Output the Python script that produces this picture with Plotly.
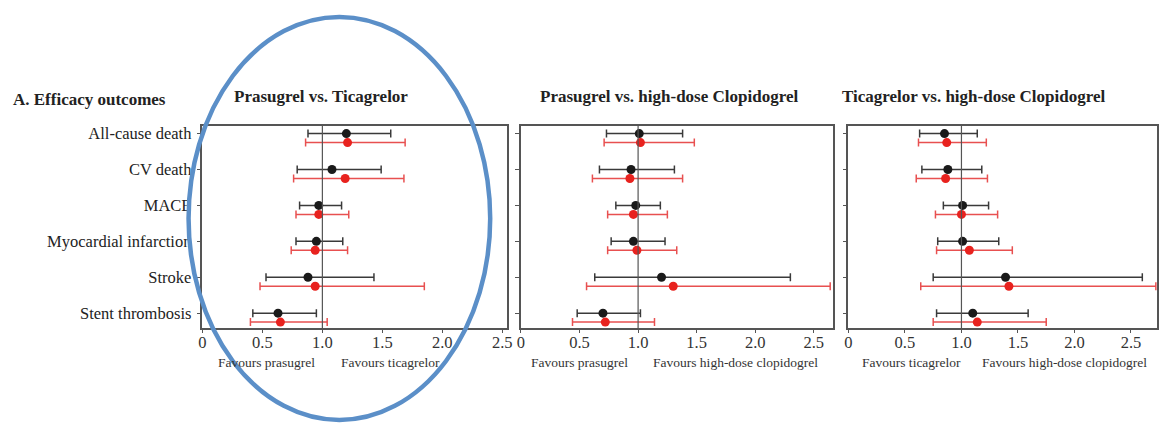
import plotly.graph_objects as go

W, H = 1162, 423

categories = ["All-cause death", "CV death", "MACE", "Myocardial infarction", "Stroke", "Stent thrombosis"]
tick_vals = [0, 0.5, 1.0, 1.5, 2.0, 2.5]
tick_text = ["0", "0.5", "1.0", "1.5", "2.0", "2.5"]

panel_titles = ["Prasugrel vs. Ticagrelor", "Prasugrel vs. high-dose Clopidogrel",
                "Ticagrelor vs. high-dose Clopidogrel"]
favours_left = ["Favours prasugrel", "Favours prasugrel", "Favours ticagrelor"]
favours_right = ["Favours ticagrelor", "Favours high-dose clopidogrel", "Favours high-dose clopidogrel"]

# Panel 1: Prasugrel vs Ticagrelor
p1_black_est = [1.20, 1.08, 0.97, 0.95, 0.88, 0.63]
p1_black_lo = [0.88, 0.79, 0.81, 0.78, 0.53, 0.42]
p1_black_hi = [1.57, 1.49, 1.16, 1.17, 1.43, 0.95]
p1_red_est = [1.21, 1.19, 0.97, 0.94, 0.94, 0.65]
p1_red_lo = [0.86, 0.76, 0.78, 0.74, 0.48, 0.40]
p1_red_hi = [1.69, 1.68, 1.22, 1.21, 1.85, 1.04]

# Panel 2: Prasugrel vs high-dose Clopidogrel
p2_black_est = [1.01, 0.94, 0.98, 0.96, 1.20, 0.70]
p2_black_lo = [0.73, 0.67, 0.81, 0.77, 0.63, 0.48]
p2_black_hi = [1.38, 1.31, 1.19, 1.23, 2.30, 1.02]
p2_red_est = [1.02, 0.93, 0.96, 0.99, 1.30, 0.72]
p2_red_lo = [0.71, 0.61, 0.74, 0.74, 0.56, 0.44]
p2_red_hi = [1.48, 1.38, 1.25, 1.33, 2.64, 1.14]

# Panel 3: Ticagrelor vs high-dose Clopidogrel
p3_black_est = [0.85, 0.88, 1.01, 1.01, 1.39, 1.10]
p3_black_lo = [0.63, 0.65, 0.84, 0.79, 0.75, 0.78]
p3_black_hi = [1.14, 1.18, 1.24, 1.33, 2.60, 1.59]
p3_red_est = [0.87, 0.86, 1.00, 1.07, 1.42, 1.14]
p3_red_lo = [0.62, 0.60, 0.77, 0.78, 0.64, 0.75]
p3_red_hi = [1.22, 1.23, 1.32, 1.45, 2.72, 1.75]

panels = [
    (p1_black_est, p1_black_lo, p1_black_hi, p1_red_est, p1_red_lo, p1_red_hi),
    (p2_black_est, p2_black_lo, p2_black_hi, p2_red_est, p2_red_lo, p2_red_hi),
    (p3_black_est, p3_black_lo, p3_black_hi, p3_red_est, p3_red_lo, p3_red_hi),
]

# layout geometry (pixels)
x_px = [(200, 507), (521, 835), (851, 1162)]
x_max = [2.54, 2.66, 2.73]
y_top, y_bot = 125, 328
FONT = "Liberation Serif"

BLACK = "#1a1a1a"
BLACK_BAR = "#3a3a3a"
RED = "#e8221e"
RED_BAR = "#e85050"

fig = go.Figure()
n = len(categories)
pos_black = list(range(n))
pos_red = [i + 0.25 for i in range(n)]

for k, (be, bl, bh, re_, rl, rh) in enumerate(panels):
    xa = "x" if k == 0 else f"x{k+1}"
    ya = "y" if k == 0 else f"y{k+1}"
    fig.add_trace(go.Scatter(
        x=be, y=pos_black, mode="markers", xaxis=xa, yaxis=ya, showlegend=False,
        marker=dict(color=BLACK, size=9),
        error_x=dict(type="data", symmetric=False,
                     array=[h - e for h, e in zip(bh, be)],
                     arrayminus=[e - l for e, l in zip(be, bl)],
                     color=BLACK_BAR, thickness=1.5, width=4)))
    fig.add_trace(go.Scatter(
        x=re_, y=pos_red, mode="markers", xaxis=xa, yaxis=ya, showlegend=False,
        marker=dict(color=RED, size=9),
        error_x=dict(type="data", symmetric=False,
                     array=[h - e for h, e in zip(rh, re_)],
                     arrayminus=[e - l for e, l in zip(re_, rl)],
                     color=RED_BAR, thickness=1.5, width=4)))

layout = dict(
    width=W, height=H, margin=dict(l=0, r=0, t=0, b=0),
    paper_bgcolor="white", plot_bgcolor="white",
    font=dict(family=FONT, color="#222"),
)
ydom = [1 - y_bot / H, 1 - y_top / H]
for k in range(3):
    sx = "" if k == 0 else str(k + 1)
    layout[f"xaxis{sx}"] = dict(
        domain=[x_px[k][0] / W, x_px[k][1] / W], range=[0, x_max[k]],
        anchor=f"y{sx}", tickvals=tick_vals, ticktext=tick_text,
        ticks="outside", ticklen=3, tickcolor="#555", showgrid=False, zeroline=False,
        showline=True, linecolor="#555", linewidth=1.5, mirror=True,
        ticklabelstandoff=-5,
        tickfont=dict(family=FONT, size=16.5, color="#333"),
    )
    layout[f"yaxis{sx}"] = dict(
        domain=ydom, range=[n - 1 + 0.42, -0.22], anchor=f"x{sx}",
        tickvals=pos_black, ticktext=categories, showticklabels=(k == 0),
        ticks="outside", ticklen=4, tickcolor="#555", showgrid=False, zeroline=False,
        showline=True, linecolor="#555", linewidth=1.5, mirror=True,
        ticklabelstandoff=2,
        tickfont=dict(family=FONT, size=16.5, color="#222"),
    )
fig.update_layout(**layout)

shapes = []
for k in range(3):
    sx = "" if k == 0 else str(k + 1)
    shapes.append(dict(type="line", xref=f"x{sx}", yref=f"y{sx} domain",
                       x0=1, x1=1, y0=0, y1=1, line=dict(color="#555", width=1.2)))
# blue highlight ellipse
shapes.append(dict(type="circle", xref="paper", yref="paper",
                   x0=186 / W, x1=490 / W, y0=1 - 420 / H, y1=1 - 16 / H,
                   line=dict(color="#5b8fc8", width=4.5), layer="above"))
fig.update_layout(shapes=shapes)

ann = []
title_cx = [319, 670, 977]
fl_cx = [[265, 390], [580, 737], [915, 1069]]
for k in range(3):
    ann.append(dict(text=f"<b>{panel_titles[k]}</b>", x=title_cx[k] / W, y=1 - 96 / H,
                    xref="paper", yref="paper", showarrow=False, xanchor="center", yanchor="middle",
                    font=dict(family=FONT, size=17, color="#222")))
    ann.append(dict(text=favours_left[k], x=fl_cx[k][0] / W, y=1 - 362 / H,
                    xref="paper", yref="paper", showarrow=False, xanchor="center", yanchor="middle",
                    font=dict(family=FONT, size=13.5, color="#333")))
    ann.append(dict(text=favours_right[k], x=fl_cx[k][1] / W, y=1 - 362 / H,
                    xref="paper", yref="paper", showarrow=False, xanchor="center", yanchor="middle",
                    font=dict(family=FONT, size=13.5, color="#333")))
ann.append(dict(text="<b>A. Efficacy outcomes</b>", x=7 / W, y=1 - 99 / H,
                xref="paper", yref="paper", showarrow=False, xanchor="left", yanchor="middle",
                font=dict(family=FONT, size=17, color="#222")))
fig.update_layout(annotations=ann)

fig.write_html("out.html", config={"displayModeBar": False},
               post_script="document.body.style.margin='0';document.body.style.overflow='hidden';")
